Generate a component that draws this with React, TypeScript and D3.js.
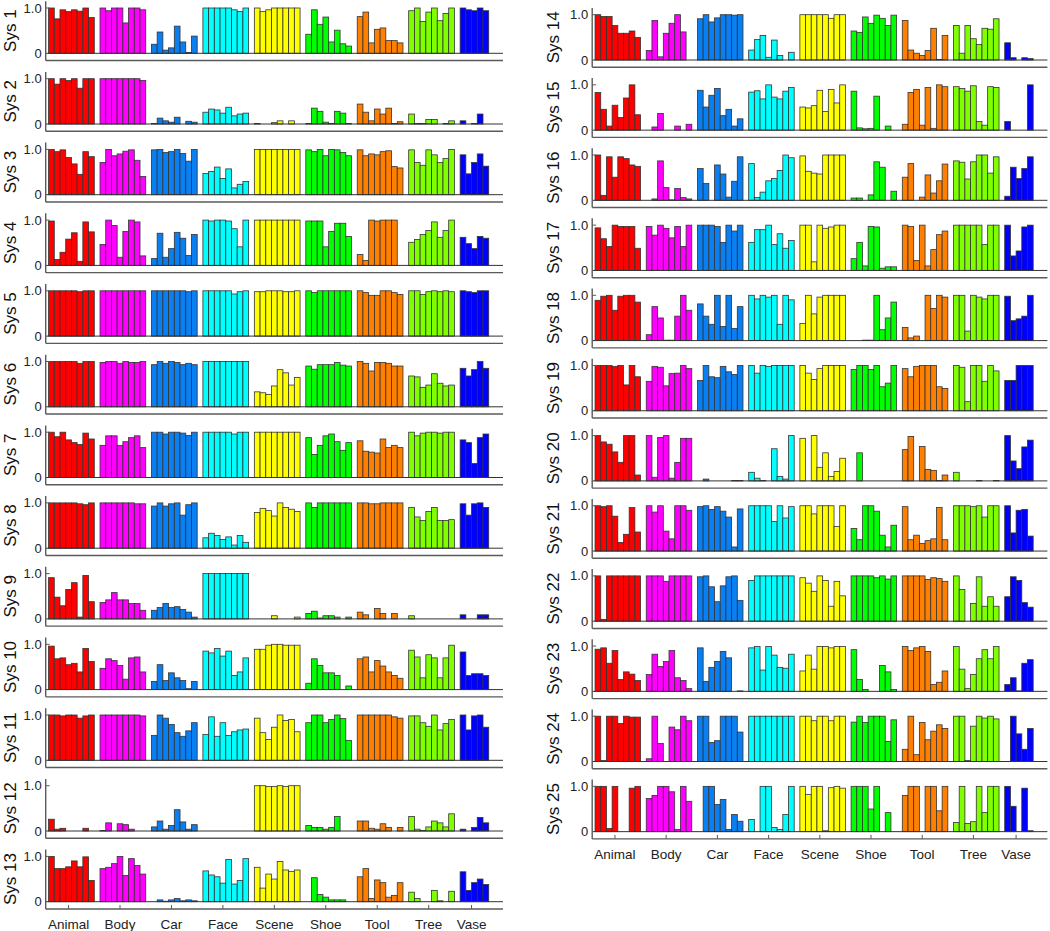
import React from 'react';
import * as d3 from 'd3';

// categories along the x axis and their bar colours
const categories = ['Animal', 'Body', 'Car', 'Face', 'Scene', 'Shoe', 'Tool', 'Tree', 'Vase'];
const categoryColors = ['#ff0000', '#ff00ff', '#0a7ff2', '#00ffff', '#ffff00', '#00ff00', '#ff8000', '#80ff00', '#0000ff'];

const systemNames = [
  'Sys 1', 'Sys 2', 'Sys 3', 'Sys 4', 'Sys 5', 'Sys 6', 'Sys 7', 'Sys 8', 'Sys 9', 'Sys 10', 'Sys 11', 'Sys 12', 'Sys 13',
  'Sys 14', 'Sys 15', 'Sys 16', 'Sys 17', 'Sys 18', 'Sys 19', 'Sys 20', 'Sys 21', 'Sys 22', 'Sys 23', 'Sys 24', 'Sys 25',
];

const yTickValues = [0, 1];
const yTickLabels = ['0', '1.0'];

// one row per category: Animal, Body, Car, Face, Scene, Shoe, Tool, Tree, Vase
const sys1 = [
  [1.0, 0.76, 0.96, 0.92, 0.96, 0.93, 1.0, 0.79],
  [1, 0.94, 1, 1, 0.67, 1, 1, 0.96],
  [0.2, 0.47, 0.07, 0.12, 0.6, 0.25, 0.02, 0.38],
  [1, 1, 1, 1, 1, 0.96, 0.92, 1],
  [1, 0.92, 0.96, 1, 1, 1, 1, 1],
  [0.42, 0.96, 0.64, 0.8, 0.25, 0.51, 0.21, 0.16],
  [0.81, 0.91, 0.23, 0.53, 0.56, 0.28, 0.28, 0.23],
  [0.94, 1, 0.7, 0.91, 1, 0.72, 0.88, 1],
  [1, 0.96, 0.94, 1, 0.94],
];
const sys2 = [
  [1, 0.88, 1, 0.96, 1, 0.79, 1, 1],
  [1, 1, 1, 1, 1, 1, 1, 0.96],
  [0.01, 0.13, 0.07, 0.04, 0.15, 0, 0.06, 0.04],
  [0.26, 0.33, 0.31, 0.24, 0.37, 0.18, 0.22, 0.24],
  [0.01, 0, 0, 0.03, 0.07, 0, 0.07, 0],
  [0.01, 0.35, 0.28, 0.04, 0.01, 0.28, 0.24, 0.01],
  [0.44, 0.26, 0.07, 0.33, 0.22, 0.35, 0.01, 0.05],
  [0.22, 0.01, 0.01, 0.1, 0.1, 0, 0.01, 0.07],
  [0.07, 0, 0.01, 0.22, 0],
];
const sys3 = [
  [1.0, 0.95, 0.99, 0.82, 0.68, 0.45, 0.95, 0.84],
  [0.71, 1.0, 0.86, 0.9, 0.96, 0.99, 0.76, 0.4],
  [0.99, 1.0, 0.93, 0.95, 1.0, 0.91, 0.74, 1.0],
  [0.47, 0.51, 0.61, 0.36, 0.57, 0.15, 0.23, 0.29],
  [1, 1, 1, 1, 1, 1, 1, 1],
  [0.99, 0.95, 1.0, 0.86, 1.0, 0.99, 0.93, 0.86],
  [0.99, 0.86, 0.9, 0.88, 0.95, 0.97, 0.62, 0.59],
  [0.99, 0.71, 0.65, 0.99, 0.88, 0.71, 0.8, 1.0],
  [0.88, 0.46, 0.71, 0.9, 0.63],
];
const sys4 = [
  [0.98, 0.13, 0.29, 0.58, 0.72, 0.09, 0.96, 0.74],
  [0.46, 1.0, 0.88, 0.18, 0.75, 1.0, 0.96, 0.21],
  [0.15, 0.71, 0.18, 0.37, 0.73, 0.6, 0.22, 0.68],
  [1.0, 0.98, 1.0, 1.0, 0.98, 0.81, 0.41, 1.0],
  [1, 1, 1, 1, 1, 1, 1, 1],
  [0.98, 0.98, 0.98, 0.41, 0.75, 0.93, 0.93, 0.64],
  [0.24, 0.11, 1.0, 0.98, 1.0, 1.0, 1.0, 0],
  [0.51, 0.57, 0.68, 0.77, 0.96, 0.62, 0.77, 1.0],
  [0.62, 0.48, 0.37, 0.64, 0.6],
];
const sys5 = [
  [1, 1, 1, 1, 1, 0.98, 1, 1],
  [1, 1, 1, 1, 1, 1, 1, 1],
  [1, 1, 1, 1, 1, 1, 0.98, 1],
  [1, 1, 1, 1, 1, 0.93, 0.98, 1],
  [0.98, 0.98, 1, 1, 1, 0.98, 0.98, 1],
  [1, 0.96, 1, 1, 1, 1, 1, 1],
  [1, 0.96, 0.9, 0.9, 1, 1, 0.96, 0.92],
  [1, 1, 0.92, 0.98, 1, 0.98, 1, 0.98],
  [1, 0.98, 0.96, 1, 1],
];
const sys6 = [
  [1, 1, 1, 1, 1, 0.96, 1, 1],
  [0.98, 1, 1, 0.96, 1, 0.98, 0.98, 1],
  [0.93, 1, 0.96, 1, 0.98, 0.93, 0.96, 0.93],
  [1, 1, 1, 1, 1, 1, 1, 1],
  [0.33, 0.31, 0.27, 0.46, 0.82, 0.75, 0.48, 0.65],
  [0.9, 0.83, 0.93, 0.93, 0.93, 0.98, 0.92, 0.9],
  [1, 0.96, 0.79, 0.98, 0.98, 0.96, 0.9, 0.9],
  [0.68, 0.66, 0.43, 0.48, 0.73, 0.52, 0.46, 0.48],
  [0.85, 0.68, 0.82, 1.0, 0.85],
];
const sys7 = [
  [1, 0.9, 1, 0.83, 0.77, 0.73, 0.98, 0.85],
  [0.71, 0.92, 0.92, 0.71, 0.79, 0.88, 0.92, 0.66],
  [1, 1, 0.96, 1, 1, 0.98, 0.93, 1],
  [1, 1, 1, 1, 1, 0.96, 1, 1],
  [1, 1, 1, 1, 1, 1, 1, 1],
  [0.88, 0.51, 0.71, 0.92, 0.96, 0.79, 0.6, 0.77],
  [0.81, 0.58, 0.56, 0.54, 0.85, 0.66, 0.71, 0.66],
  [1, 0.92, 0.98, 1, 1, 0.98, 1, 1],
  [0.83, 0.77, 0.31, 0.88, 0.96],
];
const sys8 = [
  [1, 1, 1, 1, 1, 0.98, 0.96, 1],
  [1, 1, 1, 1, 1, 1, 0.98, 0.98],
  [0.93, 1, 0.93, 0.98, 1, 0.73, 0.96, 1],
  [0.23, 0.33, 0.28, 0.19, 0.25, 0.07, 0.28, 0.13],
  [0.79, 0.88, 0.83, 0.71, 1, 0.9, 0.86, 0.81],
  [1, 0.9, 1, 1, 1, 1, 1, 1],
  [1, 1, 0.98, 0.98, 1, 1, 1, 1],
  [0.9, 0.69, 0.61, 0.81, 0.9, 0.61, 0.61, 0.63],
  [0.98, 0.73, 0.98, 1, 0.9],
];
const sys9 = [
  [0.91, 0.48, 0.29, 0.65, 0.8, 0.04, 0.96, 0.38],
  [0.36, 0.42, 0.58, 0.42, 0.42, 0.34, 0.34, 0.19],
  [0.19, 0.25, 0.34, 0.25, 0.27, 0.21, 0.15, 0.04],
  [1, 1, 1, 1, 1, 1, 1, 1],
  [0, 0, 0, 0.07, 0, 0, 0, 0.04],
  [0.12, 0.17, 0.02, 0.07, 0.07, 0.04, 0, 0.04],
  [0.15, 0.09, 0, 0.23, 0.12, 0, 0.12, 0],
  [0.07, 0, 0, 0, 0, 0, 0, 0],
  [0.09, 0, 0, 0.09, 0.09],
];
const sys10 = [
  [0.96, 0.68, 0.7, 0.55, 0.58, 0.39, 0.91, 0.62],
  [0.47, 0.68, 0.64, 0.53, 0.23, 0.7, 0.72, 0.39],
  [0.18, 0.55, 0.2, 0.37, 0.26, 0.2, 0.02, 0.18],
  [0.85, 0.81, 0.91, 0.74, 0.85, 0.31, 0.39, 0.7],
  [0.89, 0.89, 0.98, 1, 1, 0.98, 0.98, 0.98],
  [0.14, 0.68, 0.53, 0.37, 0.37, 0.31, 0, 0.08],
  [0.68, 0.72, 0.39, 0.64, 0.52, 0.39, 0.31, 0.25],
  [0.87, 0.72, 0.26, 0.77, 0.7, 0.26, 0.7, 0.98],
  [0.83, 0.31, 0.35, 0.35, 0.31],
];
const sys11 = [
  [1, 1, 0.98, 1, 1, 0.93, 0.98, 1],
  [1, 1, 1, 1, 1, 1, 1, 0.98],
  [0.55, 1, 0.93, 0.79, 0.61, 0.53, 0.65, 0.83],
  [0.57, 0.96, 0.53, 0.83, 0.55, 0.63, 0.67, 0.69],
  [0.93, 0.61, 0.46, 0.73, 1, 0.88, 0.9, 0.63],
  [0.83, 1, 1, 0.83, 0.9, 1, 0.92, 0.44],
  [1, 1, 1, 1, 1, 1, 0.96, 0.93],
  [0.98, 0.98, 0.83, 0.75, 1, 0.67, 0.81, 0.9],
  [1, 0.67, 0.98, 1, 0.73],
];
const sys12 = [
  [0.26, 0.04, 0.06, 0, 0, 0, 0.06, 0],
  [0.01, 0.18, 0, 0.16, 0.14, 0.04, 0, 0],
  [0.09, 0.22, 0.04, 0.12, 0.47, 0.2, 0.04, 0.14],
  [0, 0, 0, 0, 0, 0, 0, 0],
  [1, 1, 0.98, 0.98, 1, 0.98, 1, 1],
  [0.12, 0.08, 0.08, 0.04, 0.08, 0.32, 0, 0],
  [0.22, 0.22, 0.06, 0.04, 0.16, 0.08, 0, 0.08],
  [0.32, 0.04, 0.01, 0.09, 0.22, 0.18, 0.09, 0.38],
  [0.04, 0, 0.08, 0.3, 0.18],
];
const sys13 = [
  [1, 0.73, 0.73, 0.77, 0.9, 0.77, 0.99, 0.47],
  [0.73, 0.76, 0.84, 1.0, 0.58, 0.95, 0.8, 0.61],
  [0, 0.04, 0.01, 0.04, 0.07, 0.02, 0.04, 0.02],
  [0.68, 0.59, 0.55, 0.41, 0.93, 0.39, 0.47, 0.95],
  [0.76, 0.3, 0.61, 0.5, 0.89, 0.7, 0.67, 0.7],
  [0, 0.53, 0.16, 0.1, 0.04, 0.04, 0.04, 0],
  [0.55, 0.73, 0.07, 0.48, 0.42, 0.1, 0.14, 0.42],
  [0.21, 0.07, 0, 0, 0.25, 0.02, 0, 0.23],
  [0.66, 0.25, 0.42, 0.5, 0.38],
];
const sys14 = [
  [1, 0.96, 0.96, 0.76, 0.59, 0.59, 0.64, 0.5],
  [0.21, 0.87, 0.07, 0.59, 0.81, 1, 0.62, 0],
  [0.91, 1, 0.84, 0.93, 1, 1, 0.99, 1],
  [0.22, 0.45, 0.54, 0.06, 0.44, 0.1, 0, 0.17],
  [1, 1, 1, 1, 1, 0.92, 1, 1],
  [0.64, 0.61, 0.95, 0.81, 0.99, 0.92, 0.76, 0.99],
  [0.87, 0.22, 0.15, 0.1, 0.21, 0.7, 0.01, 0.54],
  [0.76, 0.15, 0.76, 0.47, 0.34, 0.7, 0.68, 0.91],
  [0.38, 0.05, 0, 0.05, 0.03],
];
const sys15 = [
  [0.83, 0.46, 0.09, 0.55, 0.28, 0.71, 1, 0.34],
  [0, 0.07, 0.37, 0, 0, 0.09, 0, 0.13],
  [0.88, 0.51, 0.77, 0.92, 0.32, 0.46, 0.09, 0.25],
  [0.84, 0.87, 0.69, 1, 0.73, 0.69, 0.86, 0.94],
  [0.51, 0.49, 0.54, 0.88, 0.41, 0.9, 0.6, 1],
  [0.86, 0.05, 0.03, 0.04, 0.75, 0, 0.09, 0],
  [0.13, 0.83, 0.9, 0.11, 0.94, 0.04, 1, 0.96],
  [0.96, 0.92, 0.86, 0.98, 0.19, 0.11, 0.96, 0.94],
  [0.19, 0, 0, 0, 1],
];
const sys16 = [
  [1, 0.11, 0.96, 0.51, 0.96, 0.92, 0.78, 0.75],
  [0, 0.03, 0.87, 0.28, 0.01, 0.26, 0.06, 0.03],
  [0.7, 0.37, 0, 0.78, 0.58, 0.07, 0.42, 0.96],
  [0.81, 0.06, 0.18, 0.43, 0.48, 0.66, 1, 0.94],
  [0.98, 0.64, 0.6, 0.58, 1, 1, 1, 1],
  [0.05, 0.05, 0, 0.12, 0.85, 0.73, 0, 0.2],
  [0.51, 0.81, 0, 0.07, 0.56, 0.16, 0.43, 0.8],
  [0.87, 0.84, 0.47, 0.85, 1, 1, 0.6, 0.96],
  [0.09, 0.73, 0.48, 0.7, 0.96],
];
const sys17 = [
  [0.94, 0.7, 0.53, 1, 0.97, 0.97, 0.97, 0.49],
  [0.97, 0.78, 1, 0.93, 0.72, 0.97, 0.53, 1],
  [1, 1, 1, 0.97, 0.62, 1, 0.87, 1],
  [0.62, 0.9, 0.9, 1, 0.57, 0.81, 0.49, 0.66],
  [1, 1, 0.19, 1, 0.93, 0.96, 1, 1],
  [0.26, 0.62, 0.1, 0.97, 0.96, 0.05, 0.08, 0.08],
  [1, 0.97, 0.22, 1, 0.1, 0.46, 0.79, 0.87],
  [1, 1, 1, 1, 1, 0.57, 1, 1],
  [1, 0.32, 0.43, 0.96, 1],
];
const sys18 = [
  [0.89, 0.98, 1, 0.67, 0.98, 1, 1, 0.85],
  [0.13, 0.75, 0.5, 0.01, 0.01, 0.54, 1, 0.67],
  [0.81, 0.54, 0.36, 1, 0.31, 1, 0.27, 0.75],
  [1, 0.92, 1, 0.96, 1, 0.36, 1, 0.9],
  [0.38, 1, 0.59, 0.96, 1, 1, 1, 1],
  [0, 0, 0.01, 0.01, 1, 0.24, 0.5, 0.85],
  [0.29, 0.06, 0.1, 0, 1, 0.71, 1, 0.96],
  [1, 1, 0.21, 1, 0.96, 0.92, 1, 1],
  [0.98, 0.44, 0.48, 0.54, 1],
];
const sys19 = [
  [1, 1, 1, 0.98, 1, 0.57, 1, 0.75],
  [0.65, 0.98, 0.96, 0.55, 0.82, 0.83, 1, 0.93],
  [0.67, 1, 0.75, 0.73, 0.98, 0.86, 0.8, 1],
  [1, 0.83, 1, 0.98, 1, 1, 1, 1],
  [1, 0.83, 0.69, 0.93, 1, 1, 1, 1],
  [0.91, 1, 1, 0.91, 1, 0.53, 0.61, 1],
  [0.93, 0.75, 0.98, 1, 1, 1, 0.53, 0.49],
  [1, 0.96, 0.2, 1, 1, 0.65, 1, 0.88],
  [0.67, 0.67, 1, 1, 1],
];
const sys20 = [
  [1, 0.86, 0.81, 0.64, 0.41, 1, 1, 0.13],
  [1, 0.08, 0.96, 1, 0.06, 0.41, 0.94, 0.94],
  [0, 0.04, 0, 0, 0, 0, 0.01, 0.01],
  [0.19, 0.06, 0.01, 0, 0.71, 0.1, 0.04, 1],
  [0.94, 0, 1, 0.3, 0.62, 0.1, 0.21, 0.5],
  [0, 0.62, 0, 0, 0, 0, 0, 0],
  [0.69, 0.98, 0, 0.76, 0.25, 0.23, 0.01, 0.13],
  [0.19, 0, 0, 0, 0.01, 0, 0, 0.01],
  [1, 0.44, 0.27, 0.75, 0.9],
];
const sys21 = [
  [1, 0.98, 1, 0.77, 0.19, 0.37, 0.96, 0.42],
  [1, 0.86, 1, 0.44, 0.27, 1, 1, 0.9],
  [0.98, 1, 0.92, 0.98, 0.88, 0.75, 0.09, 0.93],
  [1, 1, 1, 1, 0.65, 1, 0.73, 0.98],
  [1, 1, 0.82, 1, 1, 1, 0.54, 1],
  [0.5, 0.25, 1, 1, 0.88, 0.35, 0.09, 0.57],
  [0.98, 0.25, 0.35, 0.17, 0.23, 0.27, 0.96, 0.25],
  [1, 1, 1, 0.98, 1, 0.75, 1, 1],
  [1, 0.4, 0.9, 0.92, 0.33],
];
const sys22 = [
  [1, 0.04, 1, 1, 1, 1, 1, 1],
  [1, 1, 1, 0.88, 1, 1, 1, 1],
  [0.98, 1, 0.76, 0.43, 0.78, 0.98, 1, 0.46],
  [0.9, 1, 1, 1, 1, 1, 1, 1],
  [0.96, 0.84, 0.66, 1, 0.9, 0.33, 0.88, 0.56],
  [1, 1, 1, 1, 0.96, 1, 0.93, 1],
  [1, 1, 1, 1, 0.92, 0.96, 0.94, 0.88],
  [1, 0.7, 0, 0.39, 0.98, 0.33, 0.54, 0.33],
  [0.54, 0.98, 0.9, 0.41, 0.31],
];
const sys23 = [
  [0.93, 0.96, 0.62, 0.9, 0.26, 0.43, 0.38, 0.24],
  [0.37, 0.82, 0.55, 0.66, 0.9, 0.3, 0.24, 0.06],
  [0.96, 0.22, 0.53, 0.66, 0.88, 0.74, 0, 0.01],
  [0.96, 0.99, 0.47, 0.99, 0.8, 0.53, 0.51, 0.82],
  [0.45, 0.8, 0.49, 0.99, 0.99, 0.96, 0.99, 0.99],
  [0.92, 0.26, 0.04, 0, 0, 0.57, 0.43, 0.04],
  [0.99, 0.9, 0.96, 0.99, 0.88, 0.15, 0.2, 0.45],
  [0.99, 0.49, 0.06, 0.37, 0.72, 0.92, 0.72, 0.99],
  [0.15, 0.3, 0.01, 0.62, 0.7],
];
const sys24 = [
  [1, 0.02, 1, 1, 0.84, 1, 0.98, 0.98],
  [0.06, 1, 0.4, 0, 0.76, 0.7, 1, 0.9],
  [1, 1, 0.42, 0.46, 1, 1, 1, 0.65],
  [1, 1, 1, 1, 1, 1, 1, 1],
  [1, 1, 0.9, 1, 1, 0.9, 1, 1],
  [0.87, 1, 0.86, 1, 1, 1, 0.44, 0.92],
  [0.27, 1, 0.15, 0.86, 0.48, 0.67, 0.81, 0.73],
  [1, 1, 0.02, 0.78, 1, 0.96, 1, 0.94],
  [0, 1, 0.61, 0.27, 0.73],
];
const sys25 = [
  [1, 1, 0.07, 1, 0, 0, 0.96, 1],
  [0.73, 0.8, 1, 1, 0.88, 0.05, 1, 0.67],
  [0, 1, 1, 0.6, 0.71, 0.05, 0.38, 0.23],
  [0.27, 0, 1, 1, 0.09, 0.05, 0.38, 1],
  [1, 0.82, 1, 1, 0.02, 0.97, 1, 0.96],
  [1, 1, 1, 0.5, 1, 0, 0.42, 0],
  [0.8, 1, 1, 0, 1, 1, 0.46, 1],
  [0.2, 1, 0.18, 0.22, 1, 0.42, 1, 1],
  [1, 0.56, 0, 0.96, 0.02],
];

const systemValues = [
  sys1, sys2, sys3, sys4, sys5, sys6, sys7, sys8, sys9, sys10, sys11, sys12, sys13,
  sys14, sys15, sys16, sys17, sys18, sys19, sys20, sys21, sys22, sys23, sys24, sys25,
];

const W = 1050;
const H = 931;
const FONT = '"Liberation Sans", Arial, Helvetica, sans-serif';
const UNIT = 45.3; // pixels for a value of 1
const SLOTS = 80; // x domain, one slot per bar, one empty slot between groups

// two columns of small panels
const columns = [
  { first: 0, count: 13, x0: 45.7, x1: 503, base0: 53.3, step: 70.7, labelX: 16 },
  { first: 13, count: 12, x0: 592.2, x1: 1047.4, base0: 60, step: 70.15, labelX: 559 },
];

// slot position of the first bar of each category
const groupStarts: number[] = [];
categories.forEach((_, g) => {
  groupStarts.push(g === 0 ? 1 : groupStarts[g - 1] + systemValues[0][g - 1].length + 1);
});

function Panel({ name, values, x, base, labelX, last }: any) {
  const y = d3.scaleLinear().domain([0, 1]).range([base, base - UNIT]);
  const x0 = x.range()[0];
  const x1 = x.range()[1];
  const bottom = y(-0.16);
  const axisColor = '#5a5a5a';

  return (
    <g>
      {values.map((group: number[], g: number) =>
        group.map((v, j) => {
          const pos = groupStarts[g] + j;
          const left = x(pos - 0.5);
          return (
            <rect
              key={`${g}-${j}`}
              x={left}
              y={y(v)}
              width={x(pos + 0.5) - left}
              height={y(0) - y(v)}
              fill={categoryColors[g]}
              stroke="#333"
              strokeWidth={0.8}
            />
          );
        })
      )}
      {/* zero baseline */}
      <line x1={x0} x2={x1} y1={y(0)} y2={y(0)} stroke="#333" strokeWidth={1} />
      {/* axes */}
      <line x1={x0} x2={x0} y1={y(1.15)} y2={bottom} stroke={axisColor} strokeWidth={1.4} />
      <line x1={x0} x2={x1} y1={bottom} y2={bottom} stroke={axisColor} strokeWidth={1.4} />
      <line x1={x0} x2={x0 + 4} y1={y(1)} y2={y(1)} stroke={axisColor} strokeWidth={1} />
      {yTickValues.map((t, i) => (
        <text
          key={t}
          x={x0 - 4}
          y={y(t)}
          textAnchor="end"
          dominantBaseline="central"
          fontSize={13}
          fontFamily={FONT}
          fill="#222"
        >
          {yTickLabels[i]}
        </text>
      ))}
      <text
        transform={`translate(${labelX},${y(0.5)}) rotate(-90)`}
        textAnchor="middle"
        fontSize={17}
        fontFamily={FONT}
        fill="#111"
      >
        {name}
      </text>
      {last &&
        categories.map((c, g) => {
          const n = values[g].length;
          const tx = x(groupStarts[g] + (n - 1) / 2 - 0.5);
          return (
            <g key={c}>
              <line x1={tx} x2={tx} y1={bottom} y2={bottom - 4} stroke={axisColor} strokeWidth={1} />
              <text
                x={tx}
                y={bottom + 20}
                textAnchor="middle"
                fontSize={13.5}
                fontFamily={FONT}
                fill="#222"
              >
                {c}
              </text>
            </g>
          );
        })}
    </g>
  );
}

export default function App() {
  return (
    <svg
      width={W}
      height={H}
      style={{ position: 'absolute', left: 0, top: 0, background: '#fff' }}
    >
      {columns.map((col, ci) => {
        const x = d3.scaleLinear().domain([0, SLOTS]).range([col.x0, col.x1]);
        return (
          <g key={ci}>
            {d3.range(col.count).map((i) => {
              const k = col.first + i;
              return (
                <Panel
                  key={k}
                  name={systemNames[k]}
                  values={systemValues[k]}
                  x={x}
                  base={col.base0 + i * col.step}
                  labelX={col.labelX}
                  last={i === col.count - 1}
                />
              );
            })}
          </g>
        );
      })}
    </svg>
  );
}
